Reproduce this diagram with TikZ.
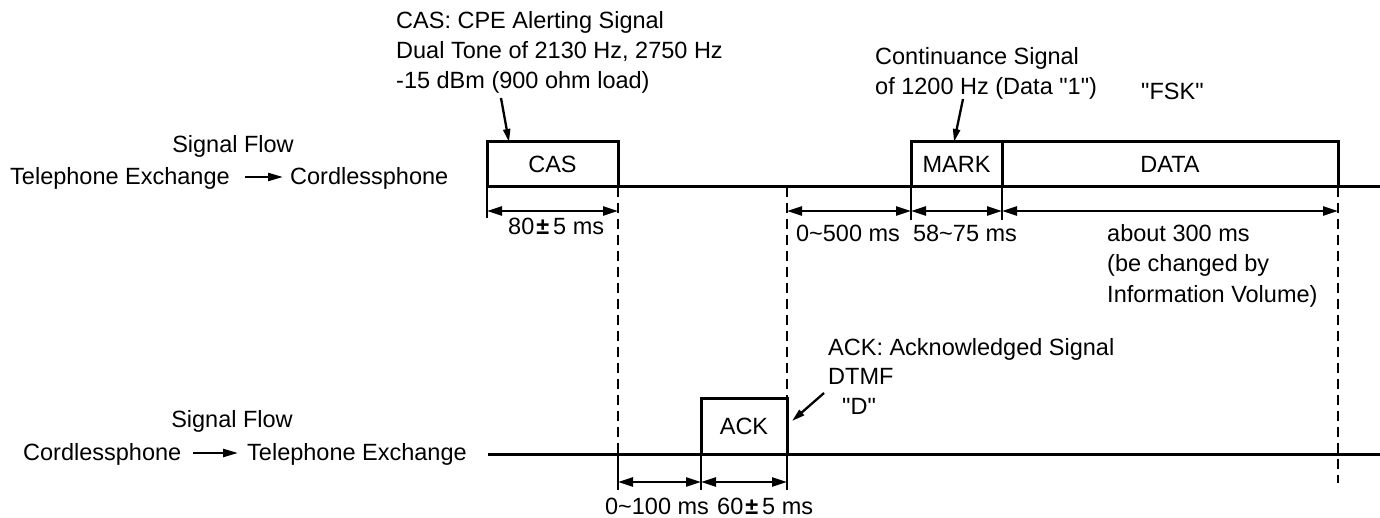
\documentclass[tikz,border=0pt]{standalone}
\usepackage{fontspec}
\setmainfont{Liberation Sans}[Ligatures=TeXOff]
\usetikzlibrary{arrows.meta}
\newcommand\sq{\symbol{34}}
\newcommand\pmb{{\bfseries ±}}
\begin{document}
\begin{tikzpicture}[x=1pt,y=-1pt,
  every node/.style={font=\fontsize{23.5}{28}\selectfont},
  txt/.style={inner sep=0pt, anchor=base west},
  ctxt/.style={inner sep=0pt, anchor=base},
  sigbox/.style={draw, line width=3pt, inner sep=0pt, outer sep=0pt, anchor=south west, text height=17pt, text depth=0pt},
  sigline/.style={line width=3pt},
  dimline/.style={line width=2.5pt, {Triangle[length=15pt,width=9pt]}-{Triangle[length=15pt,width=9pt]}},
  guide/.style={line width=2.5pt, dash pattern=on 10pt off 6pt},
  tickline/.style={line width=2.8pt},
  callout/.style={line width=2.3pt, -{Triangle[length=13pt,width=7pt]}},
  flow/.style={line width=2.3pt, -{Triangle[length=15pt,width=8pt]}}
]
\useasboundingbox (0,0) rectangle (1380,518);

% signal boxes
\node[sigbox, minimum width=131pt, minimum height=45pt] (cas) at (487,187) {CAS};
\node[sigbox, minimum width=91pt, minimum height=45pt] (mark) at (911,187) {MARK};
\node[sigbox, minimum width=336pt, minimum height=45pt] (data) at (1002,187) {DATA};
\node[sigbox, minimum width=86pt, minimum height=56pt] (ack) at (701,454) {ACK};

% signal lines
\coordinate (topR) at (1380,187);
\coordinate (botL) at (488,454);
\coordinate (botR) at (1380,454);
\draw[sigline] (cas.south west) -- (topR);
\draw[sigline] (botL) -- (botR);

% guide coordinates
\coordinate (casTick) at (487,218);
\coordinate (g1) at (618,454);
\coordinate (g1b) at (618,490);
\coordinate (g2) at (787,187);
\coordinate (ackRb) at (787,490);
\coordinate (ackLb) at (701,490);
\coordinate (markTick) at (911,220);
\coordinate (dataTick) at (1002,220);
\coordinate (g3) at (1338,483);

\draw[tickline] (cas.south west) -- (casTick);
\draw[guide] (cas.south east) -- (g1);
\draw[tickline] (g1) -- (g1b);
\draw[guide] (g2) -- (ack.north east);
\draw[tickline] (ack.south east) -- (ackRb);
\draw[tickline] (ack.south west) -- (ackLb);
\draw[tickline] (mark.south west) -- (markTick);
\draw[tickline] (mark.south east) -- (dataTick);
\draw[guide] (data.south east) -- (g3);

% dimension arrows
\coordinate (a0) at (487,211);
\coordinate (a1) at (618,211);
\coordinate (a2) at (787,211);
\coordinate (a3) at (911,211);
\coordinate (a4) at (1002,211);
\coordinate (a5) at (1338,211);
\coordinate (b0) at (618,482);
\coordinate (b1) at (701,482);
\coordinate (b2) at (787,482);
\draw[dimline] (a0) -- (a1);
\draw[dimline] (a2) -- (a3);
\draw[dimline] (a3) -- (a4);
\draw[dimline] (a4) -- (a5);
\draw[dimline] (b0) -- (b1);
\draw[dimline] (b1) -- (b2);

% dimension labels
\node[txt] (l80) at (508,235) {80\kern2pt\pmb\kern4pt5 ms};
\node[ctxt] (l500) at (848,242) {0\textasciitilde500 ms};
\node[ctxt] (l58) at (965,242) {58\textasciitilde75 ms};
\node[txt] (l300a) at (1107,242) {about 300 ms};
\node[txt] (l300b) at (1107,272) {(be changed by};
\node[txt] (l300c) at (1107,302) {Information Volume)};
\node[ctxt] (l100) at (657,514) {0\textasciitilde100 ms};
\node[txt] (l60) at (717,514) {60\kern2pt\pmb\kern4pt5 ms};

% annotations
\node[txt] (casA) at (396,29) {CAS: CPE Alerting Signal};
\node[txt] (casB) at (396,59) {Dual Tone of 2130 Hz, 2750 Hz};
\node[txt] (casC) at (396,89) {-15 dBm (900 ohm load)};
\coordinate (casArr) at (501,98);
\draw[callout] (casArr) -- ([xshift=22pt]cas.north west);

\node[txt] (conA) at (875,65) {Continuance Signal};
\node[txt] (conB) at (875,95) {of 1200 Hz (Data \sq1\sq)};
\coordinate (conArr) at (963,99);
\draw[callout] (conArr) -- ([xshift=43pt]mark.north west);

\node[txt] (fsk) at (1141,100) {\sq FSK\sq};

\node[txt] (ackA) at (828,355) {ACK: Acknowledged Signal};
\node[txt] (ackB) at (828,384) {DTMF};
\node[txt] (ackC) at (842,414) {\sq D\sq};
\coordinate (ackArr) at (824,393);
\coordinate (ackTip) at (792,421);
\draw[callout] (ackArr) -- (ackTip);

% signal flow labels
\node[ctxt] (sf1) at (233,153) {Signal Flow};
\node[txt] (te1) at (10,185) {Telephone Exchange};
\node[txt] (cp1) at (290,185) {Cordlessphone};
\coordinate (f1a) at (245,177);
\coordinate (f1b) at (283,177);
\draw[flow] (f1a) -- (f1b);

\node[ctxt] (sf2) at (232,427) {Signal Flow};
\node[txt] (cp2) at (23,460) {Cordlessphone};
\node[txt] (te2) at (247,460) {Telephone Exchange};
\coordinate (f2a) at (193,453);
\coordinate (f2b) at (238,453);
\draw[flow] (f2a) -- (f2b);
\end{tikzpicture}
\end{document}
